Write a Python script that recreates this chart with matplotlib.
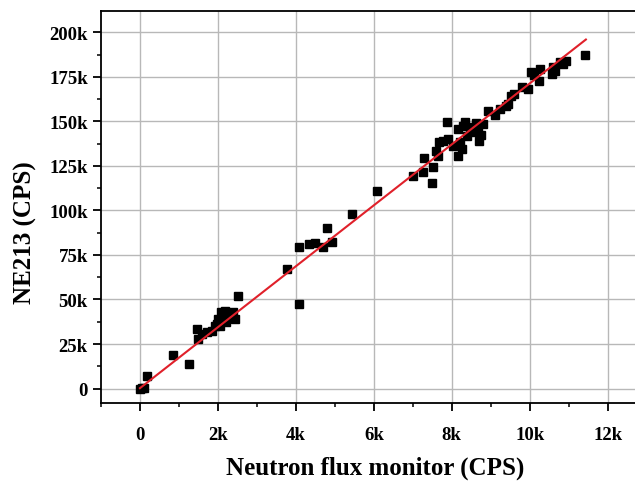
import matplotlib
matplotlib.use("Agg")
import matplotlib.pyplot as plt
from matplotlib.ticker import FuncFormatter, MultipleLocator

plt.rcParams['font.family'] = ['Liberation Serif', 'DejaVu Serif']
plt.rcParams['font.weight'] = 'bold'

# Data (CPS)
monitor_cps = [0, 50, 100, 180, 840, 1270,
               1470, 1500, 1580, 1710, 1840, 1920, 2010, 2090, 2180, 2050, 2220, 2310,
               2390, 2440, 2520, 1980, 2120, 2280, 2350,
               3780, 4070, 4080, 4340, 4490, 4700, 4800, 4930, 5450, 6090,
               7010, 7260, 7290, 7500, 7520, 7650, 7680, 7780, 7910, 7880, 8030, 8160,
               8150, 8290, 8330, 8250, 8460, 8550, 8700, 8680, 8800, 8930, 8200, 8400,
               8620, 7600, 8750,
               9230, 9400, 9530, 9600, 9790, 9960, 10040, 10260, 10240, 10560, 10600,
               10770, 10920, 11410, 10100, 10650, 10850, 9100, 9450]
ne213_cps = [0, 500, 200, 7000, 18600, 14000,
             33400, 27800, 30600, 31600, 32500, 35300, 39000, 42800, 43700, 35300, 37200, 40900,
             42800, 39000, 51700, 36500, 38500, 41500, 39500,
             67300, 47500, 79300, 81200, 81700, 79300, 90000, 82100, 98000, 111000,
             119500, 121500, 129300, 115300, 124600, 130800, 138300, 139200, 140200, 149900, 136400, 130800,
             145800, 147600, 149600, 134600, 146700, 143900, 139200, 145800, 148600, 156000, 138500, 142000,
             149000, 133500, 142500,
             157000, 158900, 164500, 165500, 169200, 168300, 177600, 179500, 172900, 176700, 180400,
             183200, 184200, 187400, 176000, 178500, 182000, 153500, 160000]

# Linear fit endpoints
fit_x = [0, 11440]
fit_y = [200, 196000]

x_ticks = [0, 2000, 4000, 6000, 8000, 10000, 12000]
y_ticks = [0, 25000, 50000, 75000, 100000, 125000, 150000, 175000, 200000]

fig = plt.figure(figsize=(6.35, 4.85), dpi=100)
ax = fig.add_axes([0.159, 0.1664, 0.841, 0.8095])

ax.grid(True, color='#b8b8b8', linewidth=1.0, zorder=0)
ax.set_axisbelow(True)
ax.plot(monitor_cps, ne213_cps, linestyle='none', marker='s', markersize=5.6,
        color='black', zorder=3)
ax.plot(fit_x, fit_y, color='#e0202a', linewidth=1.5, zorder=4)

ax.set_xlim(-1000, 12700)
ax.set_ylim(-8300, 212200)
ax.set_xticks(x_ticks)
ax.set_yticks(y_ticks)
ax.xaxis.set_minor_locator(MultipleLocator(1000))
ax.yaxis.set_minor_locator(MultipleLocator(12500))

def kfmt(v, pos):
    if v == 0:
        return '0'
    return f'{int(round(v / 1000))}k'

ax.xaxis.set_major_formatter(FuncFormatter(kfmt))
ax.yaxis.set_major_formatter(FuncFormatter(kfmt))

ax.tick_params(axis='both', which='major', direction='out', length=5.5, width=1.3,
               labelsize=13.5, pad=4)
ax.tick_params(axis='x', which='major', pad=11)
ax.tick_params(axis='both', which='minor', direction='out', length=3, width=1.1)

for s in ['left', 'bottom', 'top']:
    ax.spines[s].set_linewidth(1.3)
    ax.spines[s].set_color('black')
ax.spines['right'].set_visible(False)

ax.set_xlabel('Neutron flux monitor (CPS)', fontsize=18, fontweight='bold')
ax.set_ylabel('NE213 (CPS)', fontsize=18, fontweight='bold')
ax.xaxis.set_label_coords(0.513, -0.134)
ax.yaxis.set_label_coords(-0.12, 0.436)

fig.savefig('out.png', dpi=100)
